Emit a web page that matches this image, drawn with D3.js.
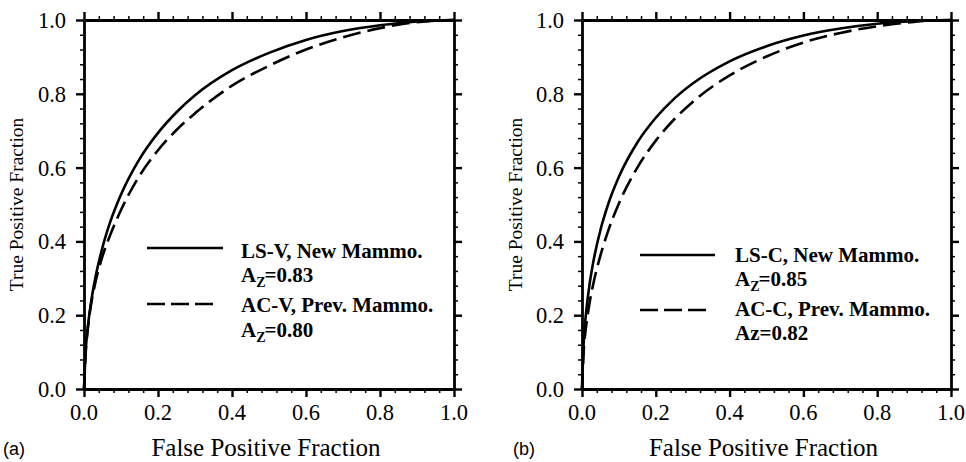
<!DOCTYPE html>
<html>
<head>
<meta charset="utf-8">
<script src="https://cdn.jsdelivr.net/npm/d3@7"></script>
<style>
  html, body { margin: 0; padding: 0; background: #fff; }
  svg { display: block; }
</style>
</head>
<body>
<svg id="chart" width="966" height="462"></svg>
<script>
// ---------- data ----------
const fpf = [0, 0.005, 0.01, 0.02, 0.03, 0.05, 0.07, 0.10, 0.15, 0.20, 0.25, 0.30, 0.40, 0.50, 0.60, 0.70, 0.80, 0.90, 0.95, 1.0];
// panel (a)
const tpfLSV = [0, 0.110, 0.165, 0.241, 0.298, 0.384, 0.450, 0.527, 0.623, 0.694, 0.750, 0.796, 0.864, 0.911, 0.946, 0.970, 0.986, 0.996, 0.999, 1.0];
const tpfACV = [0, 0.105, 0.160, 0.235, 0.285, 0.360, 0.415, 0.485, 0.578, 0.647, 0.702, 0.747, 0.822, 0.876, 0.920, 0.953, 0.978, 0.994, 0.998, 1.0];
// panel (b)
const tpfLSC = [0, 0.134, 0.196, 0.280, 0.341, 0.431, 0.498, 0.575, 0.668, 0.735, 0.787, 0.828, 0.888, 0.929, 0.958, 0.977, 0.990, 0.997, 0.999, 1.0];
const tpfACC = [0, 0.110, 0.160, 0.230, 0.282, 0.362, 0.426, 0.503, 0.600, 0.673, 0.731, 0.778, 0.850, 0.901, 0.939, 0.965, 0.983, 0.995, 0.999, 1.0];

const majorTicks = [0, 0.2, 0.4, 0.6, 0.8, 1.0];
const tickLabels = ["0.0", "0.2", "0.4", "0.6", "0.8", "1.0"];
const minorTicks = d3.range(0, 26).map(i => i * 0.04).filter(v => Math.abs((v / 0.2) - Math.round(v / 0.2)) > 1e-6);

const panelLetters = ["(a)", "(b)"];
const xTitle = "False Positive Fraction";
const yTitle = "True Positive Fraction";
const legendNames = [["LS-V, New Mammo.", "AC-V, Prev. Mammo."], ["LS-C, New Mammo.", "AC-C, Prev. Mammo."]];
const legendAz = [["0.83", "0.80"], ["0.85", "0.82"]];
const azSubscript = [[true, true], [true, false]];

// ---------- layout ----------
const svg = d3.select("#chart");
const panels = [
  { x0: 84, x1: 454, solid: tpfLSV, dashed: tpfACV, letterX: 3, yTitleX: 23,
    leg: { lx0: 147, lx1: 223, lx1d: 213, tx: 241, rows: [258, 282, 312, 337], lineY: [248, 304] } },
  { x0: 582, x1: 951, solid: tpfLSC, dashed: tpfACC, letterX: 513, yTitleX: 522,
    leg: { lx0: 640, lx1: 715, lx1d: 707, tx: 735, rows: [262, 286, 316, 340], lineY: [255, 310] } }
];
const yTop = 20, yBot = 389;
const serif = "'Liberation Serif', 'Times New Roman', serif";

panels.forEach((p, pi) => {
  const x = d3.scaleLinear().domain([0, 1]).range([p.x0, p.x1]);
  const y = d3.scaleLinear().domain([0, 1]).range([yBot, yTop]);
  const g = svg.append("g");

  // curves
  const line = d3.line().x(d => x(d[0])).y(d => y(d[1])).curve(d3.curveMonotoneX);
  g.append("path").datum(fpf.map((v, i) => [v, p.solid[i]]))
    .attr("d", line).attr("fill", "none").attr("stroke", "#000").attr("stroke-width", 2.6);
  g.append("path").datum(fpf.map((v, i) => [v, p.dashed[i]]))
    .attr("d", line).attr("fill", "none").attr("stroke", "#000").attr("stroke-width", 2.6)
    .attr("stroke-dasharray", "18,7");

  // axes (all four sides, outward ticks)
  const mk = (axisFn, scale, ticks, size) => axisFn(scale).tickValues(ticks).tickSize(size).tickFormat("");
  const axes = [
    { fn: d3.axisBottom, s: x, t: `translate(0,${yBot})` },
    { fn: d3.axisTop, s: x, t: `translate(0,${yTop})` },
    { fn: d3.axisLeft, s: y, t: `translate(${p.x0},0)` },
    { fn: d3.axisRight, s: y, t: `translate(${p.x1},0)` }
  ];
  axes.forEach(a => {
    const gm = g.append("g").attr("transform", a.t).call(mk(a.fn, a.s, minorTicks, 4).tickSizeOuter(0));
    gm.select(".domain").remove();
    gm.selectAll("line").attr("stroke", "#000").attr("stroke-width", 1.5);
    const gM = g.append("g").attr("transform", a.t).call(mk(a.fn, a.s, majorTicks, 8).tickSizeOuter(0));
    gM.select(".domain").attr("stroke", "#000").attr("stroke-width", 2.8);
    gM.selectAll("line").attr("stroke", "#000").attr("stroke-width", 2.4);
  });

  // tick labels
  g.selectAll(".xl").data(majorTicks).enter().append("text")
    .attr("x", d => x(d)).attr("y", 420)
    .attr("text-anchor", "middle").attr("font-family", serif).attr("font-size", 22.5)
    .text((d, i) => tickLabels[i]);
  g.selectAll(".yl").data(majorTicks).enter().append("text")
    .attr("x", p.x0 - 18).attr("y", d => y(d) + 8)
    .attr("text-anchor", "end").attr("font-family", serif).attr("font-size", 22.5)
    .text((d, i) => tickLabels[i]);

  // titles
  g.append("text").attr("x", (p.x0 + p.x1) / 2 - 3).attr("y", 456)
    .attr("text-anchor", "middle").attr("font-family", serif).attr("font-size", 25)
    .text(xTitle);
  g.append("text").attr("transform", `translate(${p.yTitleX},${(yTop + yBot) / 2}) rotate(-90)`)
    .attr("text-anchor", "middle").attr("font-family", serif).attr("font-size", 19.5)
    .text(yTitle);
  g.append("text").attr("x", p.letterX).attr("y", 455)
    .attr("font-family", "'Liberation Sans', Arial, sans-serif").attr("font-size", 18)
    .text(panelLetters[pi]);

  // legend
  const L = p.leg;
  g.append("line").attr("x1", L.lx0).attr("x2", L.lx1).attr("y1", L.lineY[0]).attr("y2", L.lineY[0])
    .attr("stroke", "#000").attr("stroke-width", 2.6);
  g.append("line").attr("x1", L.lx0).attr("x2", L.lx1d).attr("y1", L.lineY[1]).attr("y2", L.lineY[1])
    .attr("stroke", "#000").attr("stroke-width", 2.6).attr("stroke-dasharray", "18,6");
  [0, 1].forEach(k => {
    g.append("text").attr("x", L.tx).attr("y", L.rows[k * 2])
      .attr("font-family", serif).attr("font-weight", "bold").attr("font-size", 21)
      .text(legendNames[pi][k]);
    const t = g.append("text").attr("x", L.tx).attr("y", L.rows[k * 2 + 1])
      .attr("font-family", serif).attr("font-weight", "bold").attr("font-size", 21);
    if (azSubscript[pi][k]) {
      t.append("tspan").text("A");
      t.append("tspan").attr("font-size", 14).attr("dy", 5).text("Z");
      t.append("tspan").attr("dy", -5).attr("dx", -1).text("=" + legendAz[pi][k]);
    } else {
      t.append("tspan").text("Az=" + legendAz[pi][k]);
    }
  });
});
</script>
</body>
</html>
